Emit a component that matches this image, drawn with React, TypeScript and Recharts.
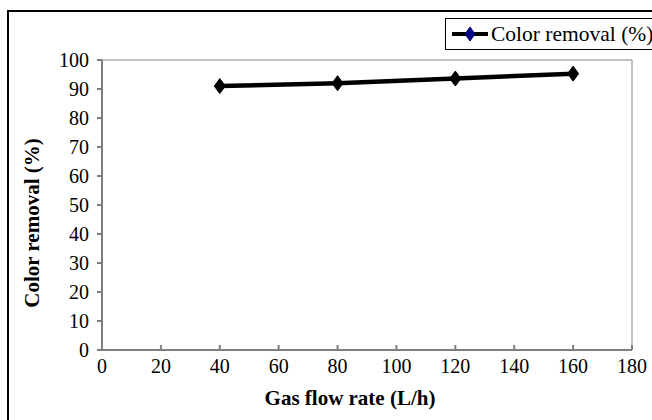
import React from "react";
import { LineChart, Line, XAxis, YAxis, ReferenceLine, Legend, Label } from "recharts";

const gasFlowRates = [40, 80, 120, 160];
const colorRemoval = [91.0, 92.0, 93.6, 95.3];
const xTicks = [0, 20, 40, 60, 80, 100, 120, 140, 160, 180];
const yTicks = [0, 10, 20, 30, 40, 50, 60, 70, 80, 90, 100];
const seriesName = "Color removal (%)";
const xTitle = "Gas flow rate (L/h)";
const yTitle = "Color removal (%)";

const data = gasFlowRates.map((x, i) => ({ x, y: colorRemoval[i] }));

const FONT = "'Liberation Serif', 'DejaVu Serif', serif";
const AXIS = "#7f7f7f";

const Diamond = (props: any) => {
  const { cx, cy } = props;
  if (cx == null || cy == null) return null;
  return (
    <path
      d={`M${cx},${cy - 7.5} L${cx + 5.5},${cy} L${cx},${cy + 7.5} L${cx - 5.5},${cy} Z`}
      fill="#000"
      stroke="#000"
      strokeWidth={1}
    />
  );
};

const XTick = (props: any) => {
  const { x, y, payload } = props;
  const axisY = y - 9;
  return (
    <g>
      <line x1={x} x2={x} y1={axisY - 5} y2={axisY} stroke={AXIS} strokeWidth={2} />
      <text
        x={x}
        y={y}
        dy="0.72em"
        textAnchor="middle"
        style={{ fontFamily: FONT, fontSize: 20 }}
        fill="#000"
      >
        {payload.value}
      </text>
    </g>
  );
};

const YTick = (props: any) => {
  const { x, y, payload } = props;
  return (
    <text
      x={x}
      y={y}
      dy="0.35em"
      textAnchor="end"
      style={{ fontFamily: FONT, fontSize: 20 }}
      fill="#000"
    >
      {payload.value}
    </text>
  );
};

const LegendBox = () => (
  <div
    style={{
      border: "1.5px solid #000",
      background: "#fff",
      height: 32,
      width: 220,
      display: "flex",
      alignItems: "center",
      boxSizing: "border-box",
      paddingLeft: 6,
    }}
  >
    <svg width={36} height={20} style={{ display: "block" }}>
      <line x1={0} x2={36} y1={10} y2={10} stroke="#000" strokeWidth={4} />
      <path d="M18,3 L23,10 L18,17 L13,10 Z" fill="#000080" stroke="#000080" />
    </svg>
    <span
      style={{
        fontFamily: FONT,
        fontSize: 21.5,
        color: "#000",
        marginLeft: 3,
        whiteSpace: "nowrap",
      }}
    >
      {seriesName}
    </span>
  </div>
);

export default function App() {
  return (
    <div
      style={{
        position: "absolute",
        left: 0,
        top: 0,
        width: 652,
        height: 420,
        overflow: "hidden",
        background: "#fff",
      }}
    >
      <div
        style={{
          position: "absolute",
          left: 7,
          top: 10,
          width: 700,
          height: 500,
          border: "2px solid #000",
          boxSizing: "border-box",
        }}
      />
      <div style={{ position: "absolute", left: 0, top: 0 }}>
        <LineChart width={652} height={420} data={data} margin={{ top: 60, right: 20, bottom: 0, left: 0 }}>
          <XAxis
            dataKey="x"
            type="number"
            domain={[0, 180]}
            ticks={xTicks}
            interval={0}
            axisLine={{ stroke: AXIS, strokeWidth: 2 }}
            tickLine={false}
            tickSize={0}
            tickMargin={9}
            tick={<XTick />}
            height={70}
          >
            <Label
              content={(p: any) => {
                const vb = p.viewBox;
                return (
                  <text
                    x={vb.x + vb.width / 2 - 17}
                    y={vb.y + 48}
                    textAnchor="middle"
                    dominantBaseline="central"
                    style={{ fontFamily: FONT, fontWeight: "bold", fontSize: 21 }}
                    fill="#000"
                  >
                    {xTitle}
                  </text>
                );
              }}
            />
          </XAxis>
          <YAxis
            type="number"
            domain={[0, 100]}
            ticks={yTicks}
            interval={0}
            width={102}
            axisLine={{ stroke: AXIS, strokeWidth: 2 }}
            tickLine={{ stroke: AXIS, strokeWidth: 2 }}
            tickSize={5}
            tickMargin={8}
            tick={<YTick />}
          >
            <Label
              content={(p: any) => {
                const vb = p.viewBox;
                const cx = vb.x + 32;
                const cy = vb.y + vb.height / 2 + 18;
                return (
                  <text
                    x={cx}
                    y={cy}
                    transform={`rotate(-90, ${cx}, ${cy})`}
                    textAnchor="middle"
                    dominantBaseline="central"
                    style={{ fontFamily: FONT, fontWeight: "bold", fontSize: 21 }}
                    fill="#000"
                  >
                    {yTitle}
                  </text>
                );
              }}
            />
          </YAxis>
          <ReferenceLine y={100} stroke="#c0c0c0" strokeWidth={2} />
          <ReferenceLine x={180} stroke="#c0c0c0" strokeWidth={2} />
          <Legend
            layout="horizontal"
            verticalAlign="middle"
            align="center"
            wrapperStyle={{ top: 18, left: 445, width: 220, right: "auto", bottom: "auto" }}
            content={() => <LegendBox />}
          />
          <Line
            type="linear"
            dataKey="y"
            name={seriesName}
            stroke="#000"
            strokeWidth={4.5}
            dot={<Diamond />}
            activeDot={false}
            isAnimationActive={false}
          />
        </LineChart>
      </div>
    </div>
  );
}
